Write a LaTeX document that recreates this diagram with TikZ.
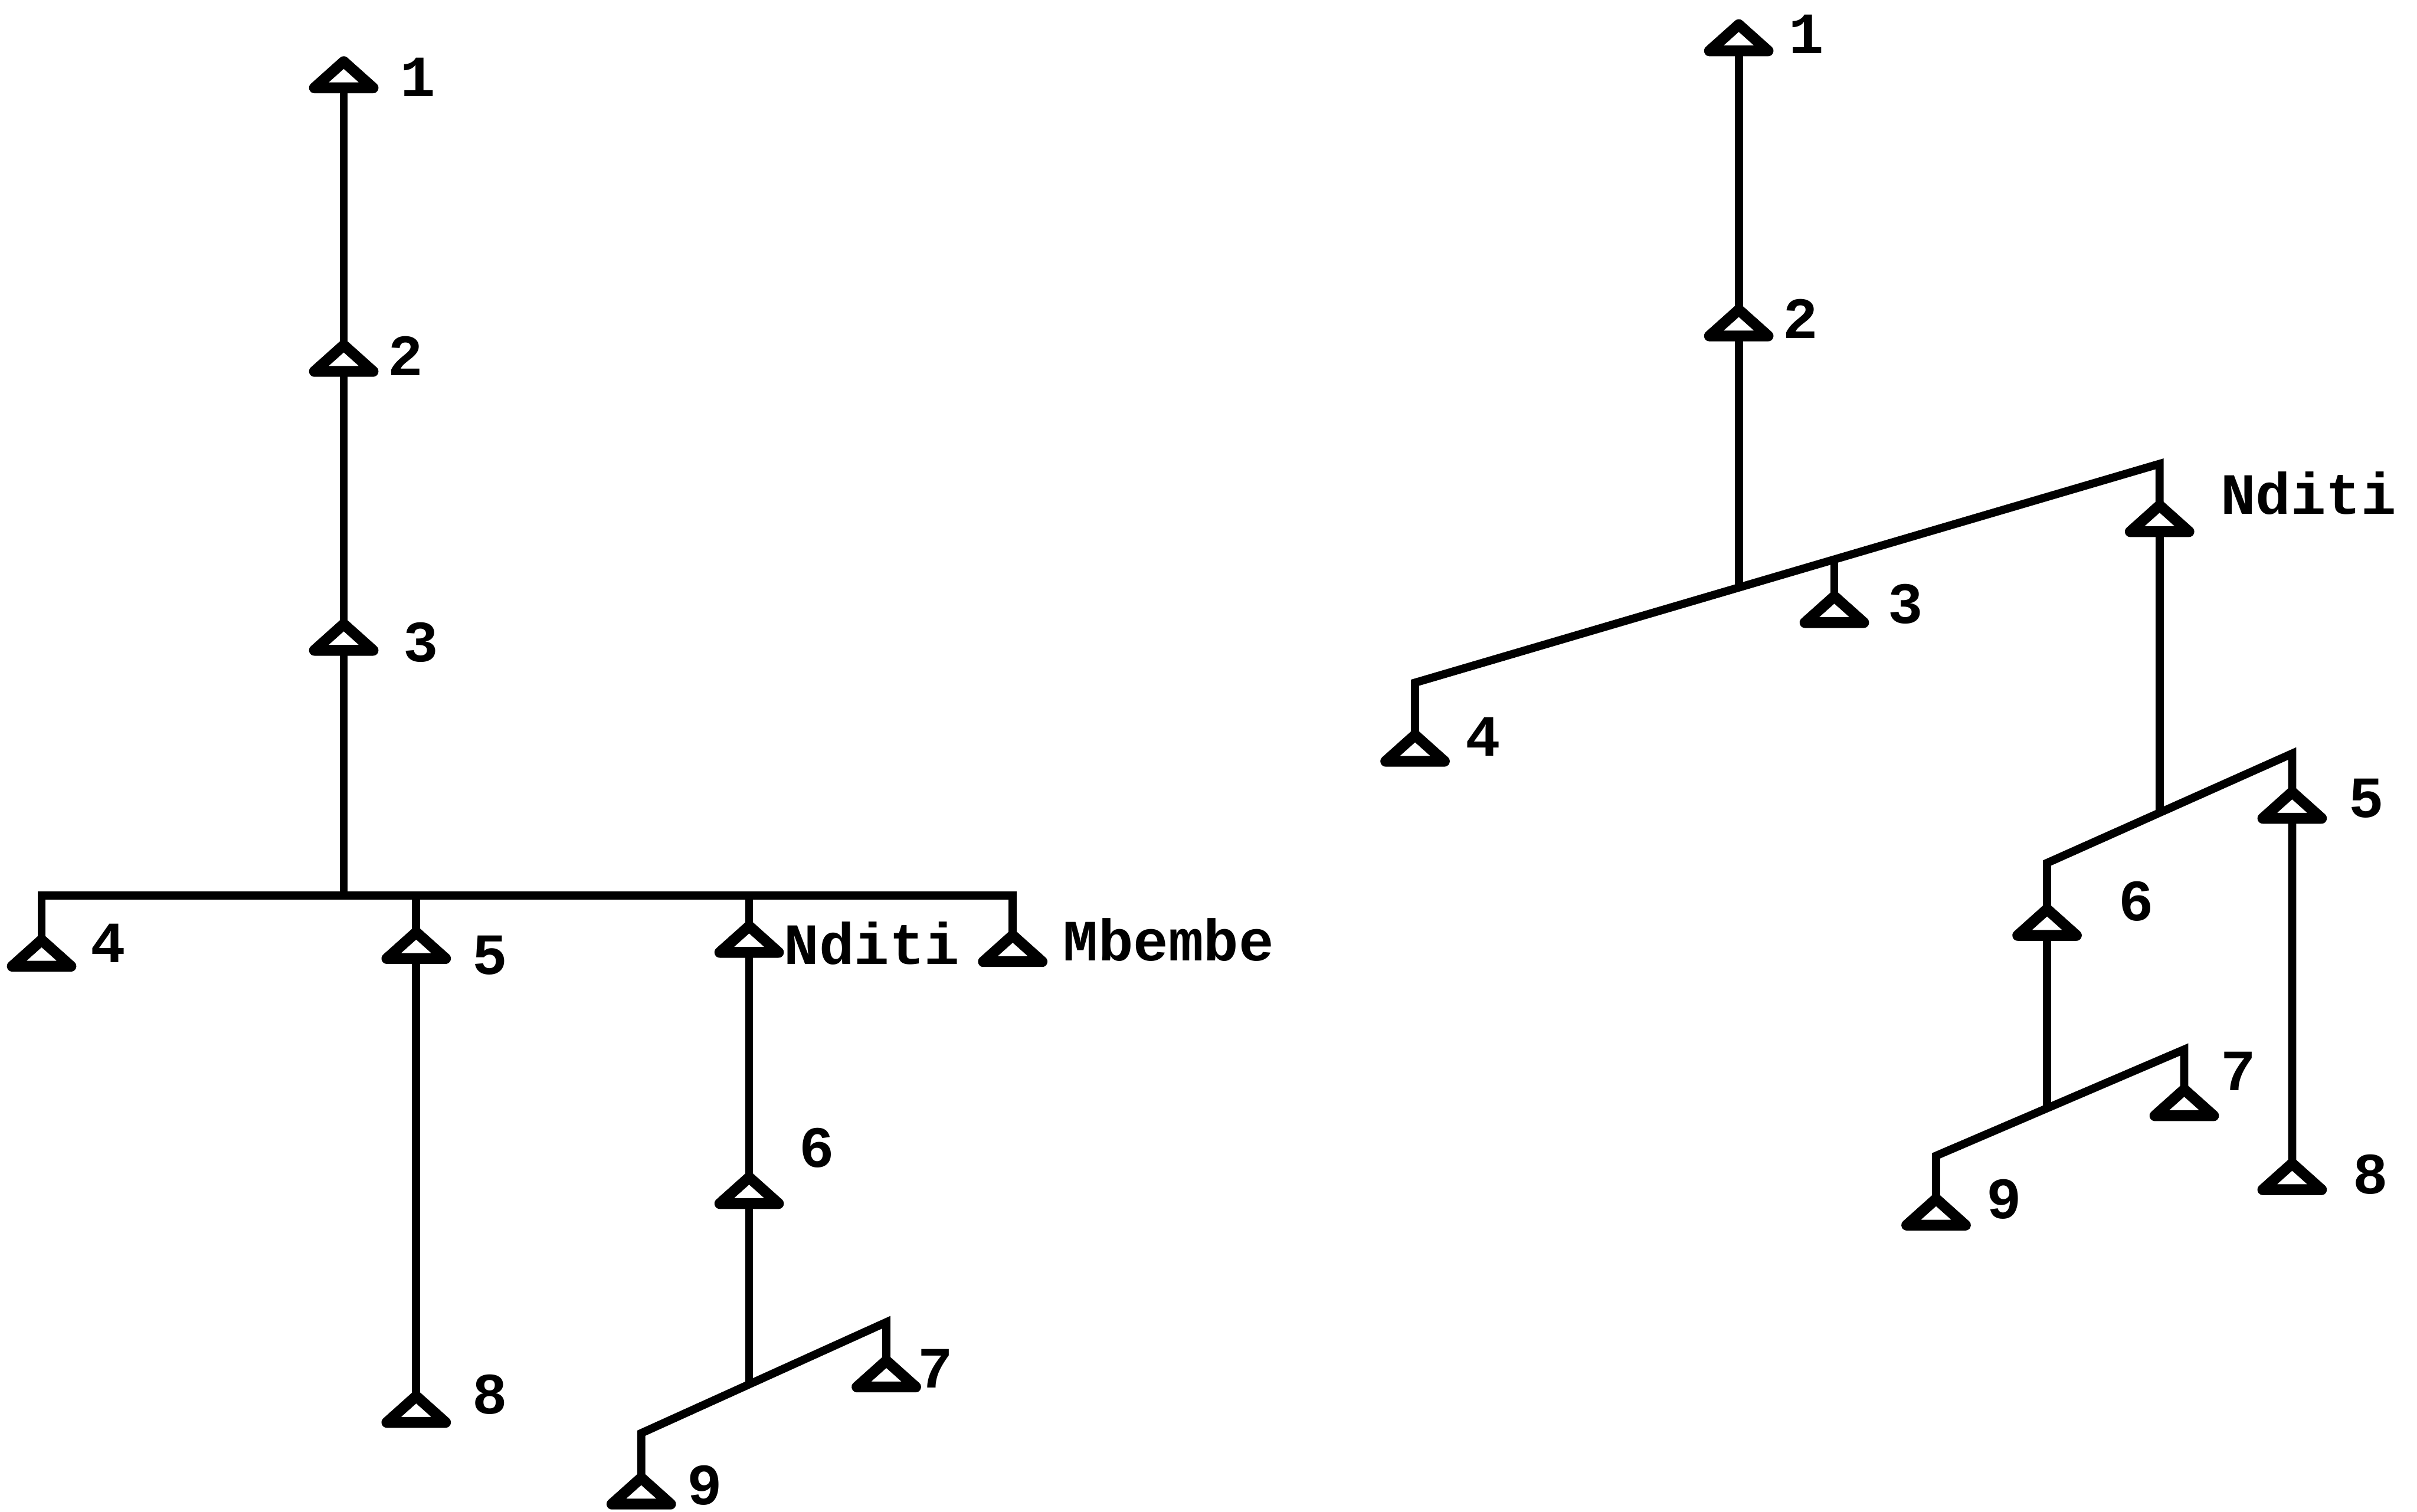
\documentclass[tikz,border=0pt]{standalone}
\usepackage{fontspec}
\setmonofont{Liberation Mono}
\tikzset{
  kin/.style={line width=1.5pt, line join=miter},
  ego/.style={draw, line width=2pt, line join=round, fill=white},
  lab/.style={font=\fontsize{10.8}{13}\selectfont\ttfamily\bfseries, inner sep=0pt},
  tri/.pic={\path[ego] (0,0) -- (-19,17) -- (19,17) -- cycle;}
}
\begin{document}
\begin{tikzpicture}[x=0.1mm, y=-0.1mm]
    \useasboundingbox (0,0) rectangle (1568,981);

    % left tree
    \coordinate (l1) at (223,40);
    \coordinate (l2) at (223,224);
    \coordinate (l3) at (223,405);

    \coordinate (lbar) at (657,581);
    \coordinate (l4) at (27,610);
    \coordinate (l5) at (270,605);
    \coordinate (lN) at (486,601);
    \coordinate (lM) at (657,607);

    \coordinate (l8) at (270,906);
    \coordinate (l6) at (486,764);

    \coordinate (lja) at (416,930);
    \coordinate (ljb) at (575,858);
    \coordinate (lj) at (486,898);
    \coordinate (l9) at (416,959);
    \coordinate (l7) at (575,883);

    \draw[kin] (l1) -- (l1 |- lbar);
    \draw[kin] (l4) |- (lbar) -- (lM);
    \draw[kin] (l5 |- lbar) -- (l8);
    \draw[kin] (lN |- lbar) -- (lj);
    \draw[kin] (l9) -- (lja) -- (ljb) -- (l7);

    % right tree
    \coordinate (r1) at (1128,16);
    \coordinate (r2) at (1128,201);

    \coordinate (rja) at (918,443);
    \coordinate (rjb) at (1401,301);
    \coordinate (rj) at (1128,381);
    \coordinate (r4) at (918,477);
    \coordinate (r3) at (1190,387);
    \coordinate (rN) at (1401,328);

    \coordinate (rka) at (1328,560);
    \coordinate (rkb) at (1487,489);
    \coordinate (rk) at (1401,527);
    \coordinate (r6) at (1328,590);
    \coordinate (r5) at (1487,514);
    \coordinate (r8) at (1487,755);

    \coordinate (rma) at (1256,750);
    \coordinate (rmb) at (1417,681);
    \coordinate (rm) at (1328,719);
    \coordinate (r9) at (1256,778);
    \coordinate (r7) at (1417,707);

    \draw[kin] (r1) -- (rj);
    \draw[kin] (r4) -- (rja) -- (rjb) -- (rN);
    \draw[kin] (r3 |- 0,362) -- (r3);
    \draw[kin] (rN) -- (rk);
    \draw[kin] (r6) -- (rka) -- (rkb) -- (r8);
    \draw[kin] (r6) -- (rm);
    \draw[kin] (r9) -- (rma) -- (rmb) -- (r7);

    \foreach \t in {l1,l2,l3,l4,l5,lN,lM,l8,l6,l9,l7,
                    r1,r2,r4,r3,rN,r6,r5,r8,r9,r7}
        \pic at (\t) {tri};

    % labels
    \node[lab] (n-l1) at (271,50) {1};
    \node[lab] (n-l2) at (263,231) {2};
    \node[lab] (n-l3) at (273,417) {3};
    \node[lab] (n-l4) at (70,612) {4};
    \node[lab] (n-l5) at (318,620) {5};
    \node[lab, anchor=west] (n-lN) at (508,612) {Nditi};
    \node[lab, anchor=west] (n-lM) at (689,610) {Mbembe};
    \node[lab] (n-l8) at (318,905) {8};
    \node[lab] (n-l6) at (530,745) {6};
    \node[lab] (n-l9) at (457,964) {9};
    \node[lab] (n-l7) at (607,888) {7};

    \node[lab] (n-r1) at (1172,22) {1};
    \node[lab] (n-r2) at (1168,207) {2};
    \node[lab] (n-r3) at (1236,392) {3};
    \node[lab] (n-r4) at (962,478) {4};
    \node[lab, anchor=west] (n-rN) at (1440,320) {Nditi};
    \node[lab] (n-r6) at (1386,585) {6};
    \node[lab] (n-r5) at (1535,518) {5};
    \node[lab] (n-r8) at (1538,762) {8};
    \node[lab] (n-r9) at (1300,778) {9};
    \node[lab] (n-r7) at (1452,695) {7};
\end{tikzpicture}
\end{document}
